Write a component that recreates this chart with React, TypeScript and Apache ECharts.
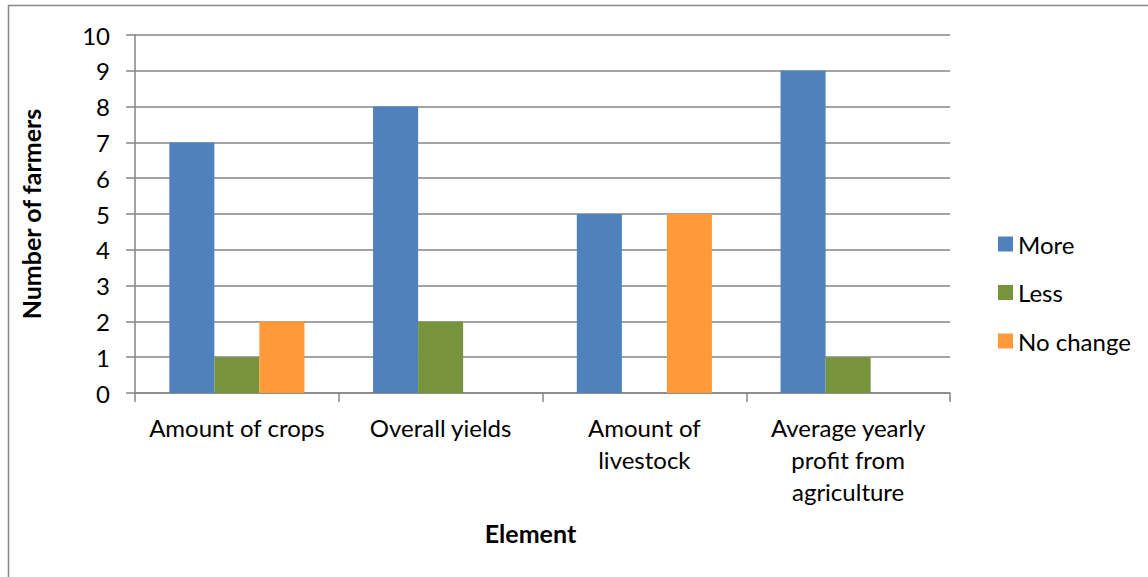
import React, { useEffect, useRef } from "react";
import * as echarts from "echarts";

const categories = [
  "Amount of crops",
  "Overall yields",
  "Amount of\nlivestock",
  "Average yearly\nprofit from\nagriculture",
];
const moreValues = [7, 8, 5, 9];
const lessValues = [1, 2, 0, 1];
const noChangeValues = [2, 0, 5, 0];
const seriesNames = ["More", "Less", "No change"];
const colors = ["#4F81BD", "#77933C", "#FF9A3A"];

const FONT = "Lato, 'Open Sans', sans-serif";

export default function App() {
  const ref = useRef<HTMLDivElement>(null);
  useEffect(() => {
    if (!ref.current) return;
    const chart = echarts.init(ref.current, null, { renderer: "svg" });
    const mk = (name: string, data: number[], color: string) => ({
      name,
      type: "bar",
      data: data.map((v) => (v === 0 ? null : v)),
      itemStyle: { color },
      barGap: "0%",
      barCategoryGap: "33.7%",
    });
    chart.setOption({
      animation: false,
      backgroundColor: "#ffffff",
      textStyle: { fontFamily: FONT },
      graphic: [
        {
          type: "rect",
          shape: { x: 8.5, y: 5.5, width: 1400, height: 800 },
          style: { fill: "none", stroke: "#868686", lineWidth: 1.5 },
          silent: true,
        },
      ],
      grid: { left: 135, right: 198, top: 35, bottom: 184 },
      legend: {
        orient: "vertical",
        left: 993,
        top: 227,
        itemWidth: 15,
        itemHeight: 15,
        itemGap: 24.5,
        icon: "rect",
        textStyle: { fontSize: 24, color: "#000", fontFamily: FONT },
        data: seriesNames,
      },
      xAxis: {
        type: "category",
        data: categories,
        name: "Element",
        nameLocation: "middle",
        nameGap: 127,
        nameTextStyle: {
          fontSize: 25,
          fontWeight: "bold",
          color: "#000",
          fontFamily: FONT,
          padding: [0, 24, 0, 0],
        },
        axisLine: { lineStyle: { color: "#868686", width: 1.5 } },
        axisTick: { show: true, length: 9, alignWithLabel: false, lineStyle: { color: "#868686", width: 1.5 } },
        axisLabel: {
          interval: 0,
          fontSize: 24,
          color: "#000",
          margin: 18,
          lineHeight: 32,
          fontFamily: FONT,
        },
      },
      yAxis: {
        type: "value",
        min: 0,
        max: 10,
        interval: 1,
        name: "Number of farmers",
        nameLocation: "middle",
        nameGap: 92,
        nameTextStyle: { fontSize: 25, fontWeight: "bold", color: "#000", fontFamily: FONT },
        axisLine: { show: true, lineStyle: { color: "#868686", width: 1.5 } },
        axisTick: { show: true, length: 9, lineStyle: { color: "#868686", width: 1.5 } },
        axisLabel: { fontSize: 24, color: "#000", margin: 25, fontFamily: FONT },
        splitLine: { lineStyle: { color: "#868686", width: 1.5 } },
      },
      series: [
        mk(seriesNames[0], moreValues, colors[0]),
        mk(seriesNames[1], lessValues, colors[1]),
        mk(seriesNames[2], noChangeValues, colors[2]),
      ],
    });
    return () => chart.dispose();
  }, []);
  return (
    <div
      ref={ref}
      style={{ position: "fixed", left: 0, top: 0, width: 1148, height: 577 }}
    />
  );
}
